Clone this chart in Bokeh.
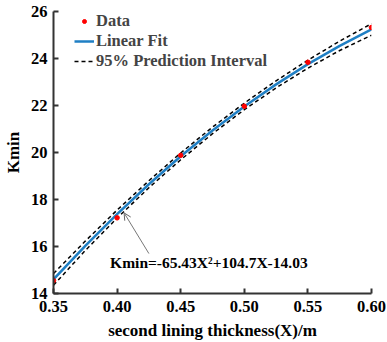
from bokeh.plotting import figure
from bokeh.models import Range1d, Legend, LegendItem, Label, Arrow, OpenHead, FixedTicker, NumeralTickFormatter
from bokeh.embed import file_html
from bokeh.resources import INLINE

# data
x_data = [0.35, 0.40, 0.45, 0.50, 0.55, 0.60]
k_data = [14.55, 17.22, 19.88, 21.97, 23.84, 25.32]

x_fit = [0.35, 0.375, 0.40, 0.425, 0.45, 0.475, 0.50, 0.525, 0.55, 0.575, 0.60]
k_fit = [14.60, 16.03, 17.38, 18.65, 19.84, 20.94, 21.96, 22.90, 23.76, 24.54, 25.24]
k_upper = [14.85, 16.23, 17.55, 18.80, 19.98, 21.08, 22.10, 23.05, 23.93, 24.74, 25.48]
k_lower = [14.35, 15.83, 17.21, 18.50, 19.69, 20.80, 21.82, 22.75, 23.59, 24.34, 24.99]

x_ticks = [0.35, 0.40, 0.45, 0.50, 0.55, 0.60]
y_ticks = [14, 16, 18, 20, 22, 24, 26]

FONT = "Liberation Serif"

p = figure(width=387, height=342, output_backend="svg", toolbar_location=None,
           x_range=Range1d(0.35, 0.60), y_range=Range1d(14, 26),
           min_border_left=51, min_border_right=16, min_border_top=11, min_border_bottom=48)
p.outline_line_color = None
p.grid.visible = False

lo = p.line(x_fit, k_lower, line_color="black", line_width=1.5, line_dash="4 3")
p.line(x_fit, k_upper, line_color="black", line_width=1.5, line_dash="4 3")
fit = p.line(x_fit, k_fit, line_color="#1f7fc4", line_width=2.5)
dots = p.scatter(x_data, k_data, size=4.5, color="red")

for ax in (p.xaxis[0], p.yaxis[0]):
    ax.axis_line_color = "#333333"
    ax.axis_line_width = 2
    ax.major_tick_line_color = "#333333"
    ax.major_tick_line_width = 2
    ax.major_tick_in = 5
    ax.major_tick_out = 0
    ax.minor_tick_line_color = None
    ax.major_label_text_font = FONT
    ax.major_label_text_font_style = "bold"
    ax.major_label_text_font_size = "16.5px"
    ax.major_label_text_color = "black"
    ax.axis_label_text_font = FONT
    ax.axis_label_text_font_style = "bold"
    ax.axis_label_text_font_size = "17px"
    ax.axis_label_text_color = "black"

p.xaxis.ticker = FixedTicker(ticks=x_ticks)
p.xaxis.formatter = NumeralTickFormatter(format="0.00")
p.yaxis.ticker = FixedTicker(ticks=y_ticks)
p.xaxis.axis_label = "second lining thickness(X)/m"
p.yaxis.axis_label = "Kmin"
p.xaxis.major_label_standoff = 7
p.yaxis.major_label_standoff = 6
p.xaxis.axis_label_standoff = 6
p.yaxis.axis_label_standoff = 5

legend = Legend(items=[LegendItem(label="Data", renderers=[dots]),
                       LegendItem(label="Linear Fit", renderers=[fit]),
                       LegendItem(label="95% Prediction Interval", renderers=[lo])],
                location=(21, 222), padding=0, margin=0, spacing=0,
                glyph_width=20, glyph_height=10, label_height=19, label_standoff=2,
                label_text_font=FONT, label_text_font_style="bold", label_text_font_size="16.5px",
                background_fill_alpha=0, border_line_color=None)
p.add_layout(legend)

p.add_layout(Arrow(end=OpenHead(size=7, line_color="#666666", line_width=1),
                   x_start=0.425, y_start=15.70, x_end=0.4055, y_end=17.43,
                   line_color="#777777", line_width=1))
p.add_layout(Label(x=0.3945, y=15.31, text="Kmin=-65.43X²+104.7X-14.03",
                   text_font=FONT, text_font_style="bold", text_font_size="15.5px",
                   text_baseline="middle", text_color="black"))

open("out.html", "w").write(file_html(p, INLINE))
